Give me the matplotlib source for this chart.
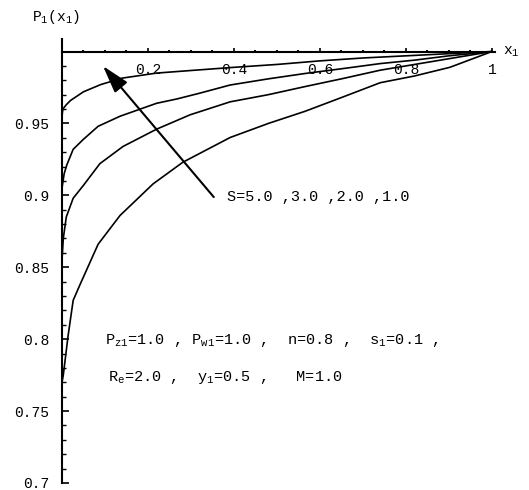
import matplotlib
matplotlib.use("Agg")
import matplotlib.pyplot as plt

plt.rcParams['font.family'] = ['Liberation Mono', 'DejaVu Sans']
plt.rcParams['mathtext.fontset'] = 'custom'
plt.rcParams['mathtext.rm'] = 'Liberation Mono'
plt.rcParams['mathtext.it'] = 'Liberation Mono'

# curves, S = 5.0, 3.0, 2.0, 1.0 (top to bottom)
x_s5 = [0, 0.002, 0.01, 0.02, 0.05, 0.09, 0.14, 0.22, 0.3, 0.4, 0.5, 0.6, 0.7, 0.8, 0.9, 1.0]
y_s5 = [0.955, 0.96, 0.963, 0.966, 0.972, 0.977, 0.9815, 0.985, 0.9868, 0.989, 0.991, 0.9935,
        0.9955, 0.997, 0.9985, 1.0]

x_s3 = [0, 0.005, 0.011, 0.026, 0.05, 0.084, 0.135, 0.22, 0.267, 0.32, 0.391, 0.48, 0.565,
        0.65, 0.74, 0.82, 0.9, 1.0]
y_s3 = [0.905, 0.915, 0.921, 0.932, 0.939, 0.948, 0.955, 0.964, 0.967, 0.971, 0.9767, 0.981,
        0.9847, 0.988, 0.9916, 0.994, 0.997, 1.0]

x_s2 = [0, 0.003, 0.01, 0.026, 0.05, 0.088, 0.142, 0.22, 0.298, 0.391, 0.48, 0.565, 0.65,
        0.74, 0.82, 0.9, 1.0]
y_s2 = [0.855, 0.87, 0.885, 0.898, 0.907, 0.922, 0.934, 0.946, 0.956, 0.965, 0.970, 0.9756,
        0.981, 0.987, 0.991, 0.995, 1.0]

x_s1 = [0, 0.003, 0.014, 0.026, 0.042, 0.084, 0.135, 0.212, 0.281, 0.391, 0.48, 0.565, 0.65,
        0.74, 0.82, 0.902, 1.0]
y_s1 = [0.77, 0.775, 0.802, 0.827, 0.838, 0.866, 0.886, 0.908, 0.923, 0.9402, 0.950, 0.9584,
        0.968, 0.9783, 0.983, 0.989, 1.0]

x_ticks = [0.2, 0.4, 0.6, 0.8, 1.0]
x_tick_labels = ['0.2', '0.4', '0.6', '0.8', '1']
y_ticks = [0.7, 0.75, 0.8, 0.85, 0.9, 0.95]
y_tick_labels = ['0.7', '0.75', '0.8', '0.85', '0.9', '0.95']

fig = plt.figure(figsize=(5.29, 4.90), dpi=100)
ax = fig.add_axes([0.1172, 0.0143, 0.8193, 0.907])

for xs, ys in [(x_s5, y_s5), (x_s3, y_s3), (x_s2, y_s2), (x_s1, y_s1)]:
    ax.plot(xs, ys, color='black', lw=1.2)

ax.set_xlim(0, 1.008)
ax.set_ylim(0.7, 1.009)

# mathematica style axes crossing at (0, 1)
ax.spines['left'].set_position(('data', 0))
ax.spines['bottom'].set_position(('data', 1.0))
ax.spines['top'].set_visible(False)
ax.spines['right'].set_visible(False)
for s in ['left', 'bottom']:
    ax.spines[s].set_linewidth(1.5)

ax.set_xticks(x_ticks)
ax.set_xticklabels(x_tick_labels)
ax.set_xticks([i * 0.05 for i in range(1, 20) if i % 4 != 0], minor=True)
ax.set_yticks(y_ticks)
ax.set_yticklabels(y_tick_labels)
ax.set_yticks([0.7 + i * 0.01 for i in range(1, 30) if i % 5 != 0], minor=True)

ax.tick_params(axis='x', which='major', direction='in', length=3, width=1.2, pad=8, labelsize=10.5)
ax.tick_params(axis='x', which='minor', direction='in', length=1.5, width=1.5)
ax.tick_params(axis='y', which='major', direction='in', length=5, width=1.2, pad=9, labelsize=10.5)
ax.tick_params(axis='y', which='minor', direction='in', length=3, width=1.0)

ax.annotate('', xy=(0.0953, 0.9899), xytext=(0.353, 0.8988),
            arrowprops=dict(arrowstyle='-|>,head_length=0.85,head_width=0.25',
                            mutation_scale=20, lw=1.5, color='black',
                            shrinkA=0, shrinkB=0))
ax.text(0.384, 0.8988, 'S=5.0 ,3.0 ,2.0 ,1.0', fontsize=11, ha='left', va='center')

ax.text(0.1, 0.7994, 'P$_{\\rm z1}$=1.0 , P$_{\\rm w1}$=1.0 ,  n=0.8 ,  s$_{\\rm 1}$=0.1 ,',
        fontsize=11, ha='left', va='center')
ax.text(0.107, 0.773, 'R$_{\\rm e}$=2.0 ,  y$_{\\rm 1}$=0.5 ,   M=1.0',
        fontsize=11, ha='left', va='center')

fig.text(32 / 529, 1 - 17 / 490, 'P$_{\\rm 1}$(x$_{\\rm 1}$)', fontsize=10.5, ha='left', va='center')
fig.text(503 / 529, 1 - 52 / 490, 'x$_{\\rm 1}$', fontsize=10.5, ha='left', va='center')

fig.savefig('out.png', dpi=100)
